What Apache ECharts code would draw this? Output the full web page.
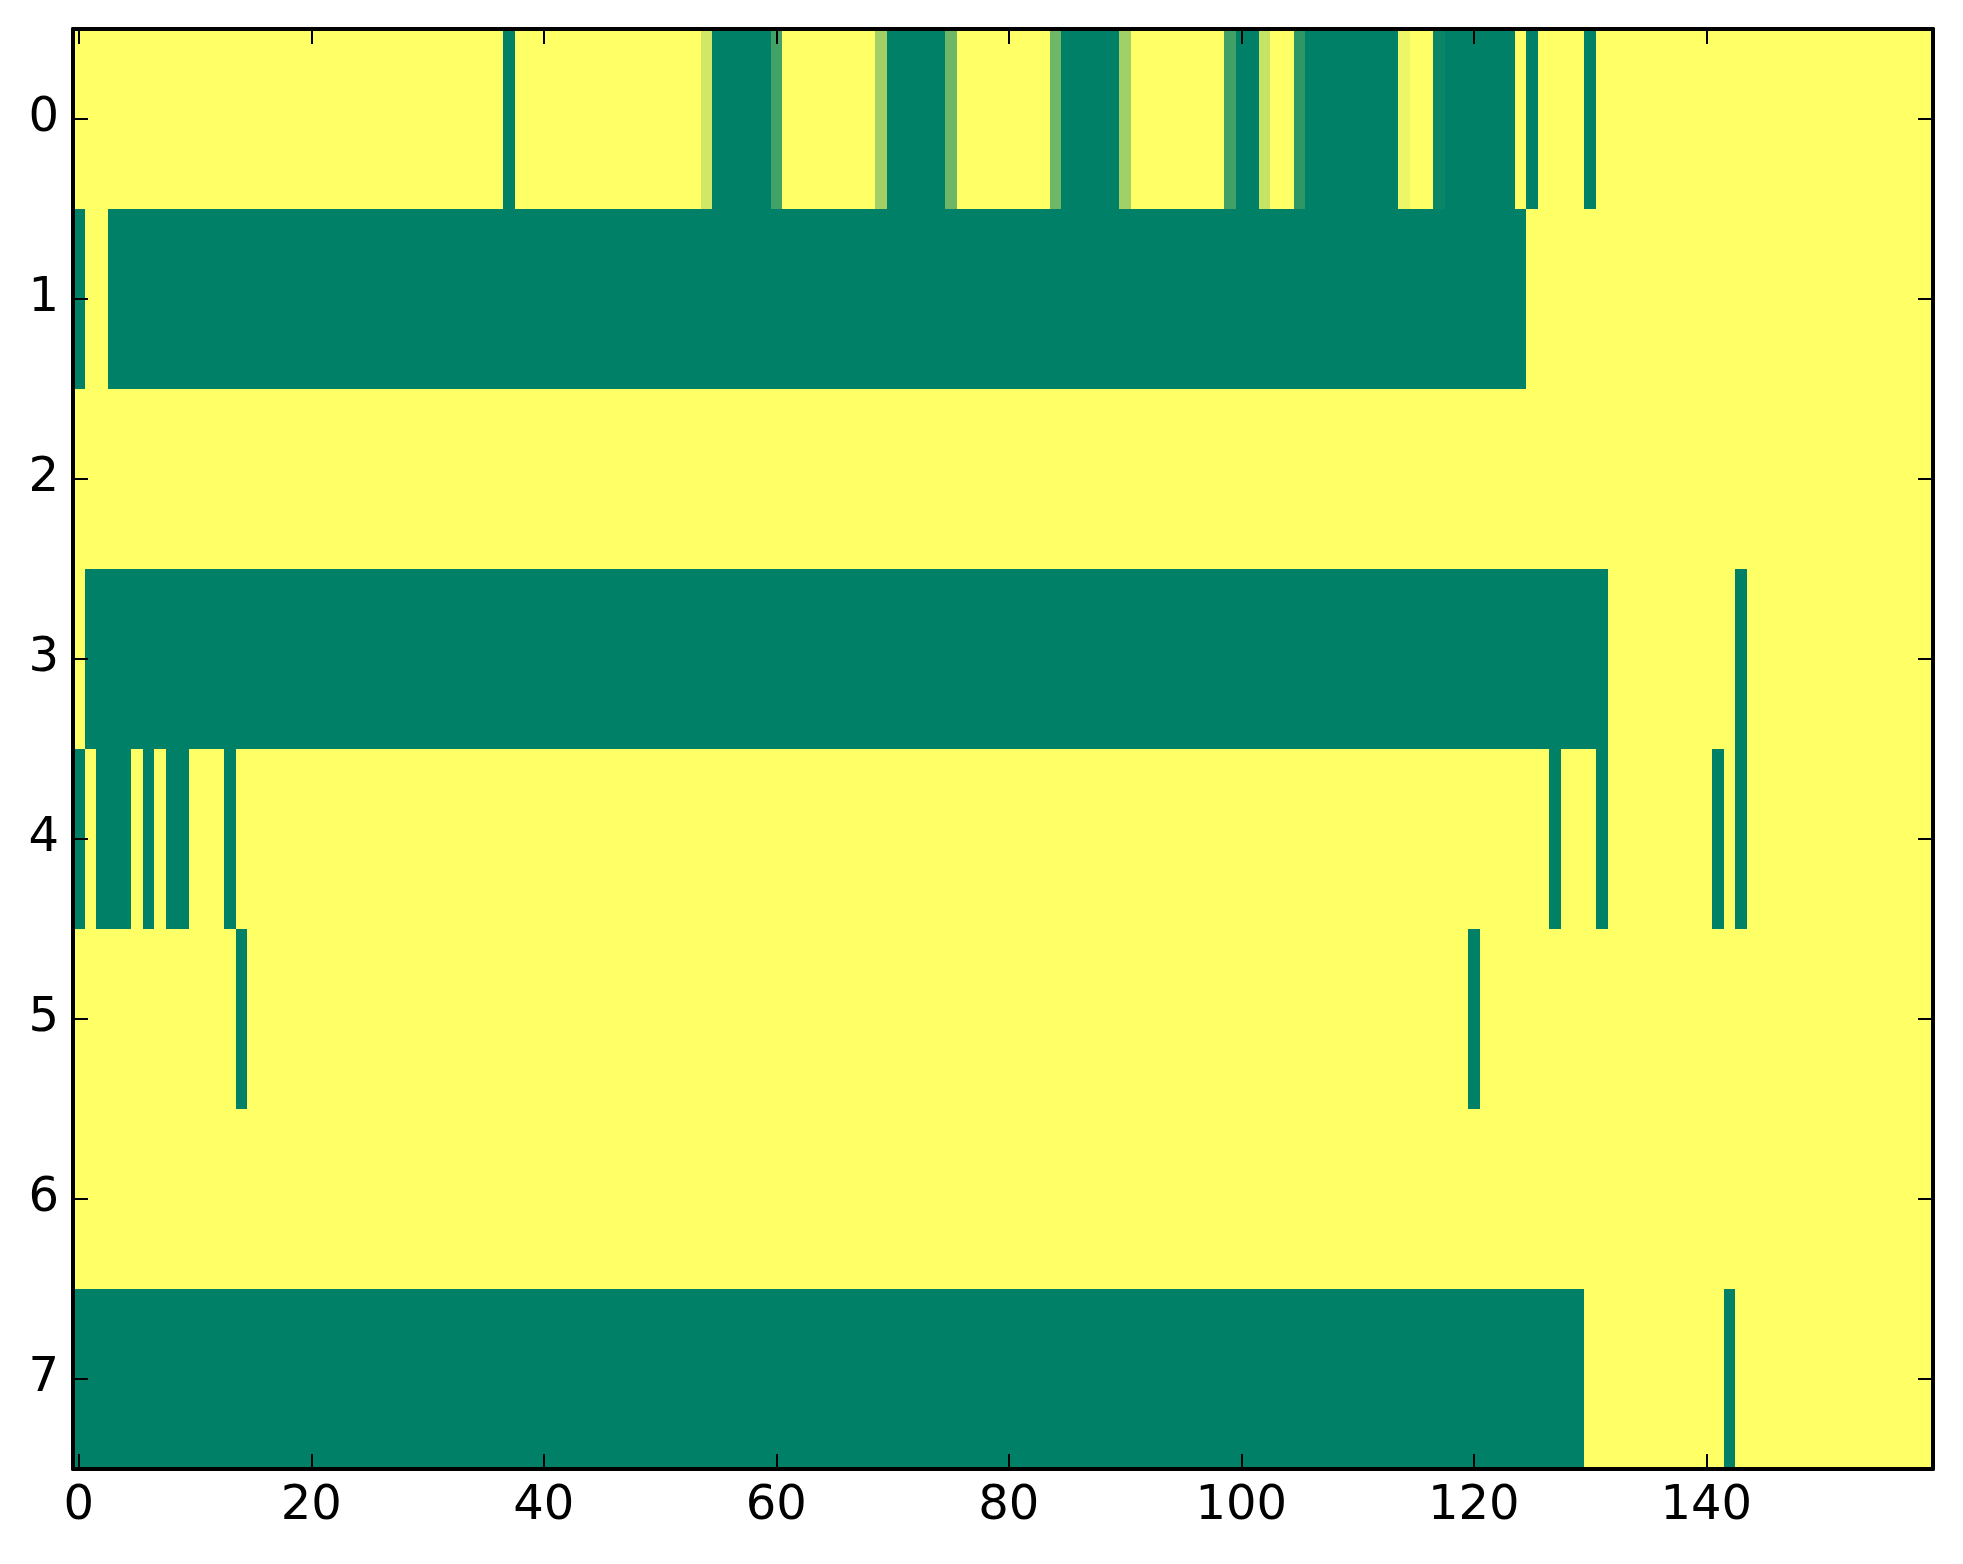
<!DOCTYPE html>
<html lang="en">
<head>
<meta charset="UTF-8">
<title>heatmap</title>
<style>
  html, body { margin: 0; padding: 0; background: #fff; }
  #chart { width: 1963px; height: 1564px; }
</style>
</head>
<body>
<div id="chart"></div>
<script src="https://cdn.jsdelivr.net/npm/echarts/dist/echarts.min.js"></script>
<script>
// grid size
var nCols = 160;
var rowLabels = ["0", "1", "2", "3", "4", "5", "6", "7"];
var xTickStep = 20; // labels at 0, 20, ... 140

// non-yellow runs per row: [fromCol, toCol, value]; every other cell is 1
var row0 = [[37, 37, 0], [54, 54, 0.82], [55, 59, 0], [60, 60, 0.26],
            [69, 69, 0.63], [70, 74, 0], [75, 75, 0.43],
            [84, 84, 0.43], [85, 89, 0], [90, 90, 0.63],
            [99, 99, 0.25], [100, 101, 0], [102, 102, 0.78],
            [105, 105, 0.18], [106, 113, 0], [114, 114, 0.93],
            [117, 117, 0.04], [118, 123, 0], [125, 125, 0], [130, 130, 0]];
var row1 = [[0, 0, 0], [3, 124, 0]];
var row2 = [];
var row3 = [[1, 131, 0], [143, 143, 0]];
var row4 = [[0, 0, 0], [2, 4, 0], [6, 6, 0], [8, 9, 0], [13, 13, 0],
            [127, 127, 0], [131, 131, 0], [141, 141, 0], [143, 143, 0]];
var row5 = [[14, 14, 0], [120, 120, 0]];
var row6 = [];
var row7 = [[0, 129, 0], [142, 142, 0]];
var rows = [row0, row1, row2, row3, row4, row5, row6, row7];

// summer colormap ends
var cmapLow = "#008066";
var cmapHigh = "#ffff66";

var colLabels = [];
for (var i = 0; i < nCols; i++) colLabels.push(String(i));

// full rows of cells, then merged into runs of equal value: [from, to, row, value]
var cells = [];
rows.forEach(function (runs, r) {
    var line = [];
    for (var c = 0; c < nCols; c++) line.push(1);
    runs.forEach(function (run) {
        for (var c = run[0]; c <= run[1]; c++) line[c] = run[2];
    });
    var start = 0;
    for (var c = 1; c <= nCols; c++) {
        if (c === nCols || line[c] !== line[start]) {
            cells.push([start, c - 1, r, line[start]]);
            start = c;
        }
    }
});

function renderRun(params, api) {
    var p = api.coord([api.value(0), api.value(2)]);
    var s = api.size([1, 1]);
    var n = api.value(1) - api.value(0) + 1;
    var x0 = Math.round(p[0] - s[0] / 2);
    var x1 = Math.round(p[0] - s[0] / 2 + n * s[0]);
    var y0 = Math.round(p[1] - s[1] / 2);
    var y1 = Math.round(p[1] + s[1] / 2);
    return {
        type: "rect",
        shape: { x: x0, y: y0, width: x1 - x0, height: y1 - y0 },
        style: { fill: api.visual("color") }
    };
}

var font = "DejaVu Sans";
var axisLine = { show: true, onZero: false, lineStyle: { color: "#000", width: 4 } };
var tick = { show: true, inside: true, length: 15, lineStyle: { color: "#000", width: 2 } };

var chart = echarts.init(document.getElementById("chart"));
var option = {
    animation: false,
    backgroundColor: "#fff",
    grid: { left: 73, top: 29, width: 1860, height: 1440 },
    visualMap: {
        show: false, type: "continuous", min: 0, max: 1, dimension: 3,
        seriesIndex: 0, inRange: { color: [cmapLow, cmapHigh] }
    },
    xAxis: [{
        type: "category", data: colLabels, position: "bottom", z: 5,
        axisLine: axisLine,
        axisTick: Object.assign({ interval: xTickStep - 1, alignWithLabel: true }, tick),
        axisLabel: { interval: xTickStep - 1, margin: 14, color: "#000", fontSize: 48, fontFamily: font },
        splitLine: { show: false }
    }, {
        type: "category", data: colLabels, position: "top", z: 5,
        axisLine: axisLine,
        axisTick: Object.assign({ interval: xTickStep - 1, alignWithLabel: true }, tick),
        axisLabel: { show: false },
        splitLine: { show: false }
    }],
    yAxis: [{
        type: "category", data: rowLabels, inverse: true, position: "left", z: 5,
        axisLine: axisLine,
        axisTick: Object.assign({ alignWithLabel: true }, tick),
        axisLabel: { margin: 14, color: "#000", fontSize: 48, fontFamily: font },
        splitLine: { show: false }
    }, {
        type: "category", data: rowLabels, inverse: true, position: "right", z: 5,
        axisLine: axisLine,
        axisTick: Object.assign({ alignWithLabel: true }, tick),
        axisLabel: { show: false },
        splitLine: { show: false }
    }],
    series: [{
        type: "custom",
        xAxisIndex: 0, yAxisIndex: 0,
        renderItem: renderRun,
        encode: { x: [0, 1], y: 2 },
        data: cells,
        silent: true
    }]
};
chart.setOption(option);
</script>
</body>
</html>
